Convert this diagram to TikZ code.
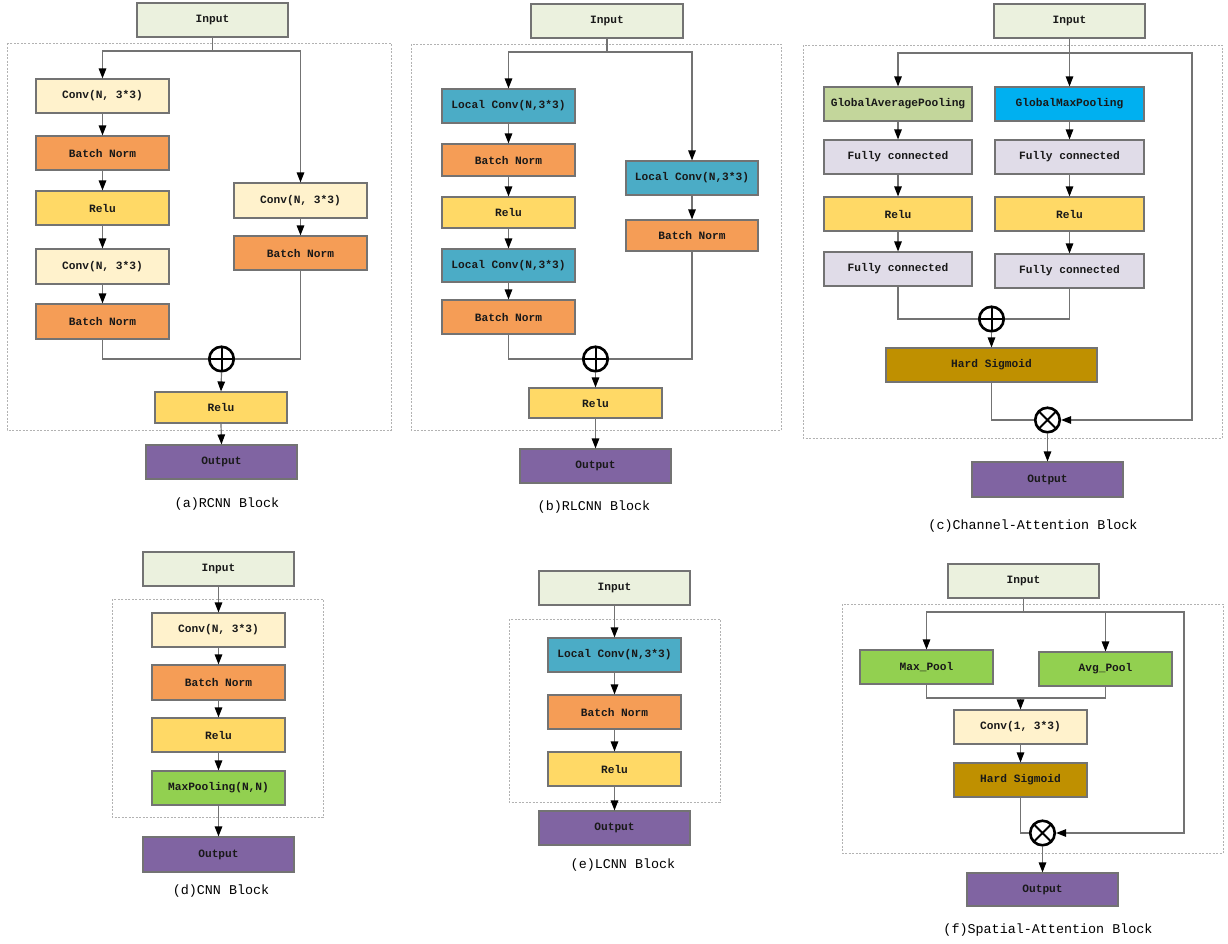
\documentclass[tikz,border=0pt]{standalone}
\usepackage{fontspec}
\setmonofont{Liberation Mono}
\usetikzlibrary{arrows.meta}
\definecolor{cinput}{HTML}{EBF1DE}
\definecolor{cconv}{HTML}{FFF2CC}
\definecolor{cbn}{HTML}{F59D56}
\definecolor{crelu}{HTML}{FFD966}
\definecolor{cout}{HTML}{8064A2}
\definecolor{clc}{HTML}{4BACC6}
\definecolor{cgap}{HTML}{C3D69B}
\definecolor{cgmp}{HTML}{00B0F0}
\definecolor{cfc}{HTML}{E0DCE8}
\definecolor{chs}{HTML}{BF9000}
\definecolor{cpool}{HTML}{92D050}
\newcommand\bx[7]{\node[box,#6,minimum width={(#4-#2)*1pt},minimum height={(#5-#3)*1pt}] (#1) at ({(#2+#4)/2},{(#3+#5)/2}) {#7};}
\tikzset{
  box/.style={draw=black!55, line width=1.1pt, inner sep=0pt, font=\ttfamily\bfseries\fontsize{11.2}{13}\selectfont, text=black!90},
  ln/.style={draw=black!55, line width=1.2pt},
  arr/.style={ln, -{Triangle[length=10pt,width=7.5pt,color=black]}},
  dbox/.style={draw=black!30, line width=0.8pt, dash pattern=on 2pt off 1.5pt},
  captxt/.style={font=\ttfamily\fontsize{13.4}{15}\selectfont, inner sep=0pt},
  opl/.style={circle, draw=black, line width=2.6pt, fill=white, minimum size=24.5pt, inner sep=0pt,
    path picture={\draw[line width=2pt] (path picture bounding box.north) -- (path picture bounding box.south) (path picture bounding box.west) -- (path picture bounding box.east);}},
  otm/.style={circle, draw=black, line width=2.6pt, fill=white, minimum size=24.5pt, inner sep=0pt,
    path picture={\draw[line width=2pt] (path picture bounding box.north west) -- (path picture bounding box.south east) (path picture bounding box.south west) -- (path picture bounding box.north east);}}
}
\begin{document}
\begin{tikzpicture}[x=1pt,y=-1pt]
\useasboundingbox[fill=white] (0,0) rectangle (1228,943);
% dashed frames
\draw[dbox] (7,43) rectangle (391,430);
\draw[dbox] (411,44) rectangle (781,430);
\draw[dbox] (803,45) rectangle (1222,438);
\draw[dbox] (112,599) rectangle (323,817);
\draw[dbox] (509,619) rectangle (720,802);
\draw[dbox] (842,604) rectangle (1223,853);

% ---------- (a) ----------
\bx{ain}{137}{3}{288}{37}{fill=cinput}{Input}
\bx{ac1}{36}{79}{169}{113}{fill=cconv}{Conv(N, 3*3)}
\bx{ab1}{36}{136}{169}{170}{fill=cbn}{Batch Norm}
\bx{ar1}{36}{191}{169}{225}{fill=crelu}{Relu}
\bx{ac2}{36}{249}{169}{284}{fill=cconv}{Conv(N, 3*3)}
\bx{ab2}{36}{304}{169}{339}{fill=cbn}{Batch Norm}
\bx{ac3}{234}{183}{367}{218}{fill=cconv}{Conv(N, 3*3)}
\bx{ab3}{234}{236}{367}{270}{fill=cbn}{Batch Norm}
\bx{ar2}{155}{392}{287}{423}{fill=crelu}{Relu}
\bx{aout}{146}{445}{297}{479}{fill=cout}{Output}
\node[captxt] (acap) at (227,504) {(a)RCNN Block};
\coordinate (abr) at (212.5,51);
\draw[ln] (ain.south) -- (abr);
\draw[arr] (abr) -| (ac1.north);
\draw[arr] (abr) -| (ac3.north);
\draw[arr] (ac1.south) -- (ab1.north);
\draw[arr] (ab1.south) -- (ar1.north);
\draw[arr] (ar1.south) -- (ac2.north);
\draw[arr] (ac2.south) -- (ab2.north);
\draw[arr] (ac3.south) -- (ab3.north);
\node[opl] (apl) at (221.5,359) {};
\draw[ln] (ab2.south) |- (apl.west);
\draw[ln] (ab3.south) |- (apl.east);
\draw[arr] (apl.south) -- (ar2.north);
\draw[arr] (ar2.south) -- (aout.north);

% ---------- (b) ----------
\bx{bin}{531}{4}{683}{38}{fill=cinput}{Input}
\bx{bl1}{442}{89}{575}{123}{fill=clc}{Local Conv(N,3*3)}
\bx{bb1}{442}{144}{575}{176}{fill=cbn}{Batch Norm}
\bx{br1}{442}{197}{575}{228}{fill=crelu}{Relu}
\bx{bl2}{442}{249}{575}{282}{fill=clc}{Local Conv(N,3*3)}
\bx{bb2}{442}{300}{575}{334}{fill=cbn}{Batch Norm}
\bx{bl3}{626}{161}{758}{195}{fill=clc}{Local Conv(N,3*3)}
\bx{bb3}{626}{220}{758}{251}{fill=cbn}{Batch Norm}
\bx{br2}{529}{388}{662}{418}{fill=crelu}{Relu}
\bx{bout}{520}{449}{671}{483}{fill=cout}{Output}
\node[captxt] (bcap) at (594,507) {(b)RLCNN Block};
\coordinate (bbr) at (607,52);
\draw[ln] (bin.south) -- (bbr);
\draw[arr] (bbr) -| (bl1.north);
\draw[arr] (bbr) -| (bl3.north);
\draw[arr] (bl1.south) -- (bb1.north);
\draw[arr] (bb1.south) -- (br1.north);
\draw[arr] (br1.south) -- (bl2.north);
\draw[arr] (bl2.south) -- (bb2.north);
\draw[arr] (bl3.south) -- (bb3.north);
\node[opl] (bpl) at (595.5,359) {};
\draw[ln] (bb2.south) |- (bpl.west);
\draw[ln] (bb3.south) |- (bpl.east);
\draw[arr] (bpl.south) -- (br2.north);
\draw[arr] (br2.south) -- (bout.north);

% ---------- (c) ----------
\bx{cin}{994}{4}{1145}{38}{fill=cinput}{Input}
\bx{cgap}{824}{87}{972}{121}{fill=cgap}{GlobalAveragePooling}
\bx{cgmp}{995}{87}{1144}{121}{fill=cgmp}{GlobalMaxPooling}
\bx{cf1}{824}{140}{972}{174}{fill=cfc}{Fully connected}
\bx{cf2}{995}{140}{1144}{174}{fill=cfc}{Fully connected}
\bx{cr1}{824}{197}{972}{231}{fill=crelu}{Relu}
\bx{cr2}{995}{197}{1144}{231}{fill=crelu}{Relu}
\bx{cf3}{824}{252}{972}{286}{fill=cfc}{Fully connected}
\bx{cf4}{995}{254}{1144}{288}{fill=cfc}{Fully connected}
\bx{chs}{886}{348}{1097}{382}{fill=chs}{Hard Sigmoid}
\bx{cout}{972}{462}{1123}{497}{fill=cout}{Output}
\node[captxt] (ccap) at (1033,526) {(c)Channel-Attention Block};
\coordinate (cbr) at (1069.5,53);
\coordinate (cbrr) at (1192,53);
\draw[arr] (cin.south) -- (cgmp.north);
\draw[arr] (cbr) -| (cgap.north);
\draw[arr] (cgap.south) -- (cf1.north);
\draw[arr] (cgmp.south) -- (cf2.north);
\draw[arr] (cf1.south) -- (cr1.north);
\draw[arr] (cf2.south) -- (cr2.north);
\draw[arr] (cr1.south) -- (cf3.north);
\draw[arr] (cr2.south) -- (cf4.north);
\node[opl] (cpl) at (991.5,319) {};
\draw[ln] (cf3.south) |- (cpl.west);
\draw[ln] (cf4.south) |- (cpl.east);
\draw[arr] (cpl.south) -- (chs.north);
\node[otm] (ctm) at (1047.5,420) {};
\draw[ln] (chs.south) |- (ctm.west);
\draw[arr] (cbr) -- (cbrr) |- (ctm.east);
\draw[arr] (ctm.south) -- (cout.north);

% ---------- (d) ----------
\bx{din}{143}{552}{294}{586}{fill=cinput}{Input}
\bx{dc}{152}{613}{285}{647}{fill=cconv}{Conv(N, 3*3)}
\bx{db}{152}{665}{285}{700}{fill=cbn}{Batch Norm}
\bx{dr}{152}{718}{285}{752}{fill=crelu}{Relu}
\bx{dm}{152}{771}{285}{805}{fill=cpool}{MaxPooling(N,N)}
\bx{dout}{143}{837}{294}{872}{fill=cout}{Output}
\node[captxt] (dcap) at (221,891) {(d)CNN Block};
\draw[arr] (din.south) -- (dc.north);
\draw[arr] (dc.south) -- (db.north);
\draw[arr] (db.south) -- (dr.north);
\draw[arr] (dr.south) -- (dm.north);
\draw[arr] (dm.south) -- (dout.north);

% ---------- (e) ----------
\bx{ein}{539}{571}{690}{605}{fill=cinput}{Input}
\bx{el}{548}{638}{681}{672}{fill=clc}{Local Conv(N,3*3)}
\bx{eb}{548}{695}{681}{729}{fill=cbn}{Batch Norm}
\bx{er}{548}{752}{681}{786}{fill=crelu}{Relu}
\bx{eout}{539}{811}{690}{845}{fill=cout}{Output}
\node[captxt] (ecap) at (623,865) {(e)LCNN Block};
\draw[arr] (ein.south) -- (el.north);
\draw[arr] (el.south) -- (eb.north);
\draw[arr] (eb.south) -- (er.north);
\draw[arr] (er.south) -- (eout.north);

% ---------- (f) ----------
\bx{fin}{948}{564}{1099}{598}{fill=cinput}{Input}
\bx{fmax}{860}{650}{993}{684}{fill=cpool}{Max\_Pool}
\bx{favg}{1039}{652}{1172}{686}{fill=cpool}{Avg\_Pool}
\bx{fconv}{954}{710}{1087}{744}{fill=cconv}{Conv(1, 3*3)}
\bx{fhs}{954}{763}{1087}{797}{fill=chs}{Hard Sigmoid}
\bx{fout}{967}{873}{1118}{906}{fill=cout}{Output}
\node[captxt] (fcap) at (1048,930) {(f)Spatial-Attention Block};
\coordinate (fbr) at (1023.5,612);
\coordinate (fbrr) at (1184,612);
\coordinate (fj) at (1020.5,698);
\draw[ln] (fin.south) -- (fbr);
\draw[arr] (fbr) -| (fmax.north);
\draw[arr] (fbr) -| (favg.north);
\draw[ln] (fmax.south) |- (fj) -| (favg.south);
\draw[arr] (fj) -- (fconv.north);
\draw[arr] (fconv.south) -- (fhs.north);
\node[otm] (ftm) at (1042.5,833) {};
\draw[ln] (fhs.south) |- (ftm.west);
\draw[arr] (fbr) -- (fbrr) |- (ftm.east);
\draw[arr] (ftm.south) -- (fout.north);
\end{tikzpicture}
\end{document}
